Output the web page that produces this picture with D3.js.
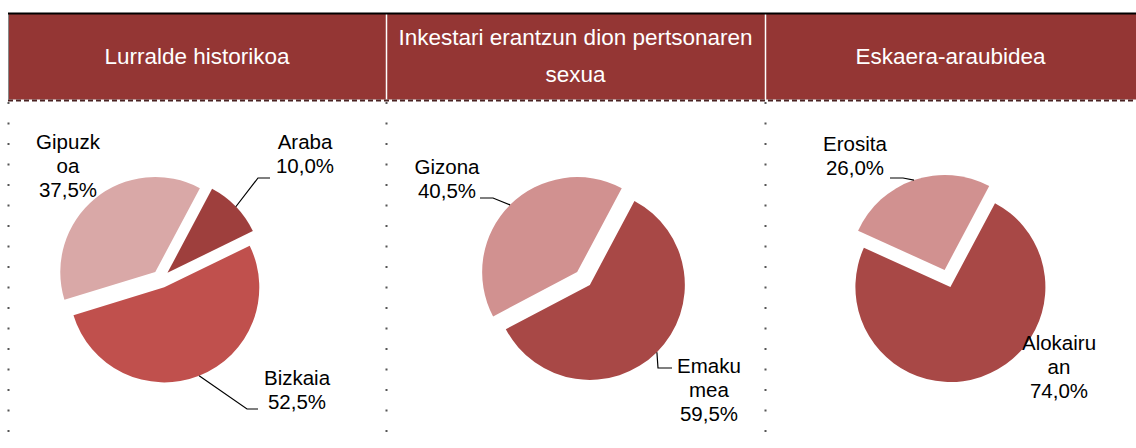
<!DOCTYPE html>
<html>
<head>
<meta charset="utf-8">
<script src="https://cdn.jsdelivr.net/npm/d3@7/dist/d3.min.js"></script>
<style>
  body { margin: 0; background: #fff; }
  svg { display: block; font-family: "Liberation Sans", Arial, sans-serif; }
</style>
</head>
<body>
<script>
"use strict";

// panel titles (line-wrapped as in the original)
var titles = [
  ["Lurralde historikoa"],
  ["Inkestari erantzun dion pertsonaren", "sexua"],
  ["Eskaera-araubidea"]
];

// Lurralde historikoa
var lurraldeCats = ["Araba", "Bizkaia", "Gipuzkoa"];
var lurraldeLabels = [["Araba"], ["Bizkaia"], ["Gipuzk", "oa"]];
var lurraldeVals = [10.0, 52.5, 37.5];

// Sexua
var sexuaCats = ["Emakumea", "Gizona"];
var sexuaLabels = [["Emaku", "mea"], ["Gizona"]];
var sexuaVals = [59.5, 40.5];

// Eskaera-araubidea
var araubideCats = ["Alokairuan", "Erosita"];
var araubideLabels = [["Alokairu", "an"], ["Erosita"]];
var araubideVals = [74.0, 26.0];

var width = 1136;
var height = 448;

var panelEdges = [8, 386, 765, 1136];
var headerTop = 14, headerBottom = 100;
var radius = 95, explode = 9;

// layout per panel: pie centre, colours, label anchor offsets and leader elbows
var panels = [
  { cats: lurraldeCats, labels: lurraldeLabels, vals: lurraldeVals,
    cx: 161, cy: 279,
    colors: ["#9e3f3d", "#c0504d", "#d9a8a7"],
    lab: [ { dx: 144, dy: -137, elbow: [97, -101], end: [109, -101] },
           { dx: 136, dy: 99, elbow: [86, 130], end: [97, 130] },
           { dx: -93, dy: -137 } ] },
  { cats: sexuaCats, labels: sexuaLabels, vals: sexuaVals,
    cx: 583.5, cy: 278.5,
    colors: ["#a84846", "#d19190"],
    lab: [ { dx: 125.5, dy: 87.5, elbow: [74.5, 89.5], end: [88.5, 89.5] },
           { dx: -136.5, dy: -111.5, elbow: [-90.5, -80.5], end: [-103.5, -80.5] } ] },
  { cats: araubideCats, labels: araubideLabels, vals: araubideVals,
    cx: 947.5, cy: 278.5,
    colors: ["#a84846", "#d19190"],
    lab: [ { dx: 111.5, dy: 64.5 },
           { dx: -92.5, dy: -134.5, elbow: [-44.5, -100.5], end: [-57.5, -100.5] } ] }
];

var locale = d3.formatLocale({ decimal: ",", thousands: ".", grouping: [3], currency: ["", "€"] });
var fmt = locale.format(".1f");

var svg = d3.select("body").append("svg")
    .attr("width", width)
    .attr("height", height);

// header band
svg.append("rect")
    .attr("x", panelEdges[0]).attr("y", headerTop)
    .attr("width", width - panelEdges[0]).attr("height", headerBottom - headerTop)
    .attr("fill", "#943634");

svg.append("line")
    .attr("x1", panelEdges[0] + 0.5).attr("x2", panelEdges[0] + 0.5)
    .attr("y1", headerTop).attr("y2", headerBottom)
    .attr("stroke", "#888").attr("stroke-width", 1);

// white separators inside the header
svg.selectAll(".sep")
    .data(panelEdges.slice(1, 3))
    .enter().append("line")
    .attr("class", "sep")
    .attr("x1", function(d) { return d + 0.5; })
    .attr("x2", function(d) { return d + 0.5; })
    .attr("y1", headerTop).attr("y2", headerBottom)
    .attr("stroke", "#fff").attr("stroke-width", 1.5);

// top black rule
svg.append("line")
    .attr("x1", panelEdges[0]).attr("x2", width)
    .attr("y1", 13.5).attr("y2", 13.5)
    .attr("stroke", "#000").attr("stroke-width", 2);

// dashed rule under the header
svg.append("line")
    .attr("x1", panelEdges[0]).attr("x2", width)
    .attr("y1", headerBottom + 0.5).attr("y2", headerBottom + 0.5)
    .attr("stroke", "#fff").attr("stroke-width", 2);
svg.append("line")
    .attr("x1", panelEdges[0]).attr("x2", width)
    .attr("y1", headerBottom + 0.5).attr("y2", headerBottom + 0.5)
    .attr("stroke", "#4a2222").attr("stroke-width", 2)
    .attr("stroke-dasharray", "5,3");

// dotted vertical borders
var dotYs = d3.range(17).map(function(i) { return 103 + i * 20.5; });
panelEdges.slice(0, 3).forEach(function(x) {
  svg.selectAll(null)
      .data(dotYs)
      .enter().append("rect")
      .attr("x", x - 0.5).attr("y", function(d) { return d - 1; })
      .attr("width", 2).attr("height", 2)
      .attr("fill", "#555");
});

// header titles
titles.forEach(function(lines, i) {
  var cx = (panelEdges[i] + panelEdges[i + 1]) / 2;
  var mid = (headerTop + headerBottom) / 2 - 1;
  var lh = 37;
  var t = svg.append("text")
      .attr("text-anchor", "middle")
      .attr("fill", "#fff")
      .attr("font-size", "22.5px");
  lines.forEach(function(l, j) {
    t.append("tspan")
        .attr("x", cx)
        .attr("y", mid + (j - (lines.length - 1) / 2) * lh)
        .attr("dy", "0.35em")
        .text(l);
  });
});

var pie = d3.pie().sort(null)
    .startAngle(28 * Math.PI / 180)
    .endAngle(28 * Math.PI / 180 + 2 * Math.PI);
var arc = d3.arc().innerRadius(0).outerRadius(radius);

panels.forEach(function(p) {
  var g = svg.append("g")
      .attr("transform", "translate(" + p.cx + "," + p.cy + ")");
  var arcs = pie(p.vals);

  g.selectAll(".slice")
      .data(arcs)
      .enter().append("path")
      .attr("class", "slice")
      .attr("transform", function(d) {
        var a = (d.startAngle + d.endAngle) / 2;
        return "translate(" + (Math.sin(a) * explode) + "," + (-Math.cos(a) * explode) + ")";
      })
      .attr("d", arc)
      .attr("fill", function(d, i) { return p.colors[i]; });

  arcs.forEach(function(d, i) {
    var L = p.lab[i];
    var a = (d.startAngle + d.endAngle) / 2;
    if (L.elbow) {
      var sx = Math.sin(a) * (explode + radius);
      var sy = -Math.cos(a) * (explode + radius);
      g.append("polyline")
          .attr("points", [[sx, sy], L.elbow, L.end].map(function(q) { return q.join(","); }).join(" "))
          .attr("fill", "none")
          .attr("stroke", "#000")
          .attr("stroke-width", 1.2);
    }
    var lines = p.labels[i].concat([fmt(d.data) + "%"]);
    var t = g.append("text")
        .attr("text-anchor", "middle")
        .attr("fill", "#000")
        .attr("font-size", "20.5px");
    lines.forEach(function(l, j) {
      t.append("tspan")
          .attr("x", L.dx)
          .attr("y", L.dy + j * 24)
          .attr("dy", "0.35em")
          .text(l);
    });
  });
});
</script>
</body>
</html>
